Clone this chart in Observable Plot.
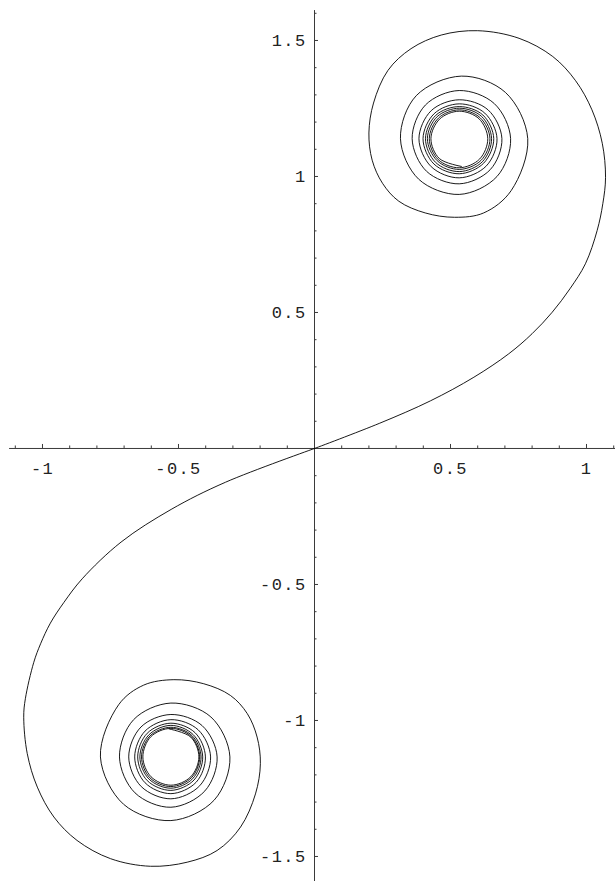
<!DOCTYPE html>
<html>
<head>
<meta charset="utf-8">
<script src="https://cdn.jsdelivr.net/npm/d3@7"></script>
<script src="https://cdn.jsdelivr.net/npm/@observablehq/plot@0.6"></script>
<style>
  html, body { margin: 0; padding: 0; background: #fff; }
  #chart svg { display: block; }
  #chart svg text { letter-spacing: 1.4px; }
</style>
</head>
<body>
<div id="chart"></div>
<script>
// Double spiral through the origin: each arm winds into its own limit point.
// Arm rising from the origin into the upper-right spiral.
const upperArm = [
  [0, 0], [0.240, 0.093], [0.426, 0.175], [0.586, 0.262], [0.714, 0.348],
  [0.800, 0.422], [0.874, 0.501], [0.939, 0.587], [0.996, 0.679], [1.039, 0.801],
  [1.060, 0.900], [1.070, 0.997], [1.058, 1.122], [1.020, 1.245], [0.960, 1.352],
  [0.876, 1.441], [0.752, 1.508], [0.600, 1.536], [0.466, 1.520], [0.355, 1.470],
  [0.270, 1.390], [0.217, 1.270], [0.200, 1.160], [0.212, 1.060], [0.250, 0.975],
  [0.310, 0.909], [0.407, 0.866], [0.515, 0.850], [0.622, 0.866],
  [0.723, 0.948], [0.784, 1.139], [0.702, 1.309], [0.540, 1.369], [0.374, 1.297], [0.316, 1.139], [0.383, 0.990], [0.532, 0.934],
  [0.671, 1.000], [0.721, 1.139], [0.661, 1.268], [0.532, 1.316], [0.408, 1.263], [0.359, 1.139], [0.412, 1.019], [0.532, 0.973],
  [0.646, 1.025], [0.689, 1.139], [0.638, 1.245], [0.532, 1.282], [0.429, 1.242], [0.384, 1.139], [0.429, 1.036], [0.532, 0.995],
  [0.632, 1.039], [0.671, 1.139], [0.626, 1.233], [0.532, 1.267], [0.440, 1.231], [0.399, 1.139], [0.439, 1.046], [0.532, 1.010],
  [0.622, 1.049], [0.659, 1.139], [0.619, 1.226], [0.532, 1.257], [0.446, 1.225], [0.408, 1.139], [0.445, 1.052], [0.532, 1.018],
  [0.617, 1.054], [0.651, 1.139], [0.614, 1.221], [0.532, 1.251], [0.451, 1.220], [0.415, 1.139], [0.451, 1.058], [0.532, 1.026],
  [0.612, 1.059], [0.645, 1.139], [0.609, 1.216], [0.532, 1.245], [0.456, 1.215], [0.422, 1.139], [0.455, 1.062], [0.532, 1.032],
  [0.607, 1.064], [0.637, 1.139], [0.605, 1.212], [0.532, 1.240], [0.460, 1.211], [0.428, 1.139], [0.459, 1.066], [0.540, 1.037]
];

// Arm falling from the origin into the lower-left spiral.
const lowerArm = [
  [0, 0], [-0.327, -0.124], [-0.527, -0.224], [-0.711, -0.344], [-0.854, -0.479],
  [-0.922, -0.567], [-0.971, -0.642], [-1.007, -0.718], [-1.032, -0.786], [-1.063, -0.920],
  [-1.069, -0.988], [-1.056, -1.122], [-1.019, -1.245], [-0.958, -1.355], [-0.873, -1.441],
  [-0.750, -1.508], [-0.603, -1.536], [-0.468, -1.521], [-0.358, -1.478], [-0.272, -1.392],
  [-0.217, -1.270], [-0.199, -1.159], [-0.211, -1.061], [-0.247, -0.975], [-0.309, -0.908],
  [-0.407, -0.865], [-0.517, -0.850], [-0.628, -0.870],
  [-0.720, -0.942], [-0.787, -1.134], [-0.702, -1.308], [-0.528, -1.368], [-0.369, -1.293], [-0.311, -1.134],
  [-0.381, -0.987], [-0.528, -0.936], [-0.665, -0.997], [-0.717, -1.134], [-0.660, -1.266], [-0.528, -1.319], [-0.403, -1.259], [-0.358, -1.134],
  [-0.413, -1.019], [-0.528, -0.978], [-0.638, -1.024], [-0.683, -1.134], [-0.637, -1.243], [-0.528, -1.288], [-0.422, -1.240], [-0.382, -1.134],
  [-0.428, -1.034], [-0.528, -0.997], [-0.623, -1.039], [-0.661, -1.134], [-0.623, -1.229], [-0.528, -1.269], [-0.435, -1.227], [-0.401, -1.134],
  [-0.439, -1.045], [-0.528, -1.010], [-0.615, -1.047], [-0.650, -1.134], [-0.615, -1.221], [-0.528, -1.257], [-0.443, -1.219], [-0.411, -1.134],
  [-0.446, -1.052], [-0.528, -1.018], [-0.609, -1.053], [-0.642, -1.134], [-0.609, -1.215], [-0.528, -1.249], [-0.448, -1.214], [-0.417, -1.134],
  [-0.450, -1.056], [-0.528, -1.025], [-0.605, -1.057], [-0.636, -1.134], [-0.605, -1.211], [-0.528, -1.243], [-0.452, -1.210], [-0.422, -1.134],
  [-0.453, -1.059], [-0.528, -1.029], [-0.602, -1.060], [-0.631, -1.134], [-0.601, -1.207], [-0.528, -1.238], [-0.455, -1.207], [-0.425, -1.134],
  [-0.455, -1.061], [-0.535, -1.031]
];

// Axis ticks and their labels
const xMajor = [-1, -0.5, 0.5, 1];
const xMajorLabels = ["-1", "-0.5", "0.5", "1"];
const xMinor = [-1.1, -0.9, -0.8, -0.7, -0.6, -0.4, -0.3, -0.2, -0.1,
                0.1, 0.2, 0.3, 0.4, 0.6, 0.7, 0.8, 0.9, 1.1];
const yMajor = [-1.5, -1, -0.5, 0.5, 1, 1.5];
const yMajorLabels = ["-1.5", "-1", "-0.5", "0.5", "1", "1.5"];
const yMinor = [-1.4, -1.3, -1.2, -1.1, -0.9, -0.8, -0.7, -0.6, -0.4, -0.3, -0.2, -0.1,
                0.1, 0.2, 0.3, 0.4, 0.6, 0.7, 0.8, 0.9, 1.1, 1.2, 1.3, 1.4, 1.6];

// Extent of the two axis lines
const xAxisSpan = [-1.121, 1.107];
const yAxisSpan = [-1.592, 1.610];

const W = 615, H = 881;
const xDomain = [-1.1544, 1.1066];
const yDomain = [-1.592, 1.647];
const pxPerUnit = W / (xDomain[1] - xDomain[0]);
const majorLen = 4 / pxPerUnit, minorLen = 2.5 / pxPerUnit;
const axisColor = "#3a3a3a";

const chart = Plot.plot({
  width: W,
  height: H,
  margin: 0,
  x: {domain: xDomain, axis: null},
  y: {domain: yDomain, axis: null},
  style: {fontFamily: "'Liberation Mono', 'DejaVu Sans Mono', monospace", fontSize: "17px", background: "#fff", color: "#000"},
  marks: [
    // axes through the origin
    Plot.ruleY([0], {x1: xAxisSpan[0], x2: xAxisSpan[1], stroke: axisColor, strokeWidth: 1}),
    Plot.ruleX([0], {y1: yAxisSpan[0], y2: yAxisSpan[1], stroke: axisColor, strokeWidth: 1}),
    // x ticks point up, y ticks point right
    Plot.ruleX(xMajor, {x: d => d, y1: 0, y2: majorLen, stroke: axisColor}),
    Plot.ruleX(xMinor, {x: d => d, y1: 0, y2: minorLen, stroke: axisColor}),
    Plot.ruleY(yMajor, {y: d => d, x1: 0, x2: majorLen, stroke: axisColor}),
    Plot.ruleY(yMinor, {y: d => d, x1: 0, x2: minorLen, stroke: axisColor}),
    Plot.text(xMajor, {x: d => d, y: 0, text: (d, i) => xMajorLabels[i], dy: 20, fill: "#222"}),
    Plot.text(yMajor, {x: 0, y: d => d, text: (d, i) => yMajorLabels[i], dx: -8, textAnchor: "end", fill: "#222"}),
    // the curve
    Plot.line(upperArm, {x: d => d[0], y: d => d[1], curve: "catmull-rom", stroke: "#000", strokeWidth: 0.9}),
    Plot.line(lowerArm, {x: d => d[0], y: d => d[1], curve: "catmull-rom", stroke: "#000", strokeWidth: 0.9})
  ]
});
document.getElementById("chart").append(chart);
</script>
</body>
</html>
